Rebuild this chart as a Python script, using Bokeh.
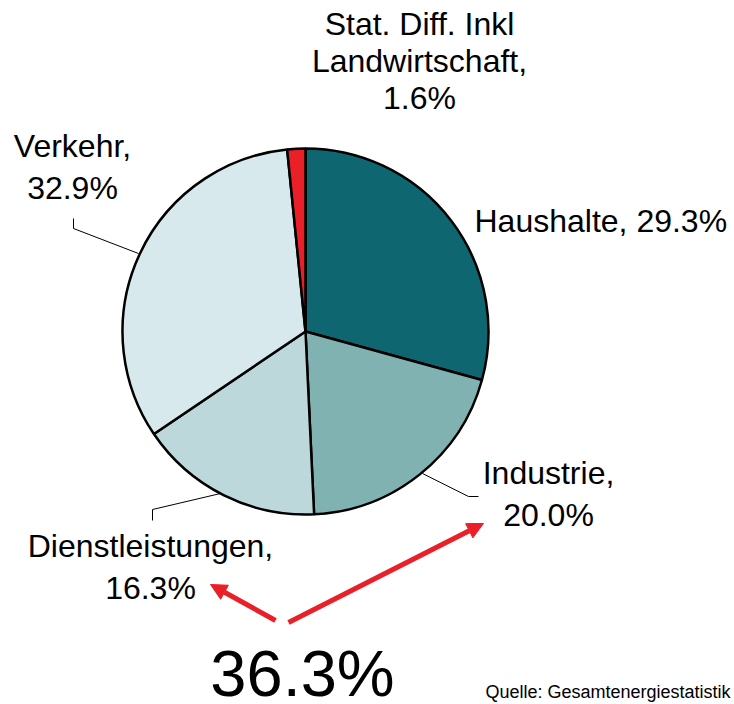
from bokeh.plotting import figure
from bokeh.models import Range1d, Arrow, NormalHead, ColumnDataSource
from bokeh.core.properties import value
from bokeh.embed import file_html
from bokeh.resources import INLINE
import math

# ---- data ----
categories = ["Haushalte", "Industrie", "Dienstleistungen", "Verkehr",
              "Stat. Diff. Inkl Landwirtschaft"]
shares = [29.3, 20.0, 16.3, 32.9, 1.6]
colors = ["#0e6670", "#80b2b2", "#bcd8da", "#d7e9ec", "#ea2028"]
# how each category name is broken into label lines
name_lines = [["Haushalte,"], ["Industrie,"], ["Dienstleistungen,"], ["Verkehr,"],
              ["Stat. Diff. Inkl", "Landwirtschaft,"]]
highlight = ["Industrie", "Dienstleistungen"]
source_note = "Quelle: Gesamtenergiestatistik"

# ---- layout (page pixel coordinates) ----
PAGE_H = 704
OFF = 0
W, H = 734, 704
FONT = value("Liberation Sans")
SHIFT = 0.39  # empirical baseline correction (fraction of font size)
cx, cy, R = 305, 331, 183

def Y(py):
    return PAGE_H - py

def TY(py, size):
    # baseline position corrected for the renderer's text offset
    return PAGE_H - (py - SHIFT * size)

p = figure(width=W, height=H, x_range=Range1d(OFF, OFF + W),
           y_range=Range1d(PAGE_H - OFF - H, PAGE_H - OFF),
           x_axis_type=None, y_axis_type=None, toolbar_location=None,
           output_backend="svg", min_border=0, outline_line_color=None,
           background_fill_color="white", border_fill_color="white")

total = sum(shares)
starts, ends = [], []
cum = 0.0
for s in shares:
    starts.append(math.pi / 2 - 2 * math.pi * cum / total)
    cum += s
    ends.append(math.pi / 2 - 2 * math.pi * cum / total)

src = ColumnDataSource(dict(cat=categories, share=shares, color=colors,
                            start=starts, end=ends))
p.wedge(x=cx, y=Y(cy), radius=R, start_angle="start", end_angle="end",
        direction="clock", fill_color="color", line_color="black",
        line_width=2.5, source=src)

# leader lines (page coords)
leaders = {
    "Verkehr": [(73, 218), (73, 228), (138, 253)],
    "Dienstleistungen": [(220, 493), (152, 509), (152, 520)],
    "Industrie": [(422, 473), (468, 496), (478, 496)],
}
for pts in leaders.values():
    p.line([q[0] for q in pts], [Y(q[1]) for q in pts], line_color="black",
           line_width=1)

LBL = 32
# label placement: (x, first baseline, line spacing, align)
label_pos = {
    "Haushalte": (474, 233, 42, "left"),
    "Industrie": (548, 485, 42, "center"),
    "Dienstleistungen": (150, 558, 42, "center"),
    "Verkehr": (72, 158, 42, "center"),
    "Stat. Diff. Inkl Landwirtschaft": (419, 36, 37, "center"),
}
for cat, share, names in zip(categories, shares, name_lines):
    pct = f"{share:.1f}%"
    lines = list(names)
    if len(lines) == 1 and cat == "Haushalte":
        lines = [lines[0] + " " + pct]
    else:
        lines.append(pct)
    x0, b0, dy, al = label_pos[cat]
    p.text(x=[x0] * len(lines),
           y=[TY(b0 + i * dy, LBL) for i in range(len(lines))],
           text=lines, text_align=al, text_baseline="alphabetic",
           text_font=FONT, text_font_size=f"{LBL}px", text_color="black")

# combined share of highlighted categories
combo = sum(s for c, s in zip(categories, shares) if c in highlight)
BIG = 65
p.text(x=[302], y=[TY(698, BIG)], text=[f"{combo:.1f}%"], text_align="center",
       text_baseline="alphabetic", text_font=FONT, text_font_size=f"{BIG}px",
       text_color="black")

red = "#ea2028"
for (xs, ys, xe, ye) in [(275, 620, 210, 584), (288, 622, 483, 523)]:
    p.add_layout(Arrow(end=NormalHead(size=16, fill_color=red, line_color=red),
                       x_start=xs, y_start=Y(ys), x_end=xe, y_end=Y(ye),
                       line_color=red, line_width=5))

SRC = 18
p.text(x=[730], y=[TY(699, SRC)], text=[source_note], text_align="right",
       text_baseline="alphabetic", text_font=FONT, text_font_size=f"{SRC}px",
       text_color="black")

open("out.html", "w").write(file_html(p, INLINE))
